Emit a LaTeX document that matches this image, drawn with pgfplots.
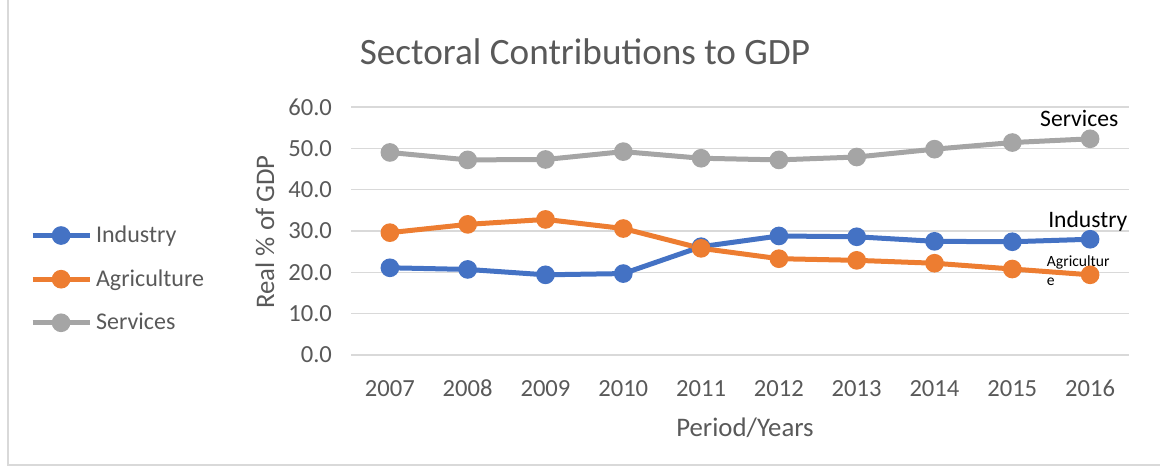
\documentclass[border=0pt]{standalone}
\usepackage{fontspec}
\setmainfont{Carlito}
\usepackage{pgfplots}
\pgfplotsset{compat=1.18}
\definecolor{ind}{HTML}{4472C4}
\definecolor{agr}{HTML}{ED7D31}
\definecolor{ser}{HTML}{A5A5A5}
\definecolor{txt}{HTML}{595959}
\definecolor{grd}{HTML}{D9D9D9}
\begin{document}
\begin{tikzpicture}[x=1pt,y=1pt]
\useasboundingbox (0,0) rectangle (580,235);
\draw[grd, line width=0.8pt] (4,235) -- (4,2.5) -- (580,2.5);
\begin{axis}[
  at={(175.5pt,57.5pt)}, anchor=south west,
  scale only axis, width=389pt, height=124pt,
  xmin=2006.5, xmax=2016.5, ymin=0, ymax=60,
  xtick={2007,...,2016}, ytick={0,10,...,60},
  /pgf/number format/1000 sep={},
  /pgf/number format/assume math mode=true,
  yticklabel style={/pgf/number format/fixed,/pgf/number format/fixed zerofill,/pgf/number format/precision=1, xshift=-6pt},
  xticklabel style={yshift=-9pt},
  ymajorgrids, grid style={grd, line width=0.8pt},
  axis line style={draw=none}, tick style={draw=none},
  tick label style={font=\fontsize{12.3}{14}\selectfont, text=txt},
  legend style={at={(axis description cs:-0.413,0.306)}, anchor=west, draw=none, fill=none,
    font=\fontsize{12}{14}\selectfont, text=txt, row sep=8pt, inner sep=0pt,
    cells={anchor=west, inner xsep=0.5pt}},
  legend image code/.code={\draw[mark repeat=2,mark phase=2,#1] plot coordinates {(0pt,0pt) (14.25pt,0pt) (28.5pt,0pt)};},
  every axis plot/.append style={line width=2.5pt, mark=*, mark size=3.4pt},
  clip=false,
]
\addplot[ind, mark options={fill=ind, draw=ind}] coordinates {
(2007,21.1) (2008,20.7) (2009,19.4) (2010,19.7) (2011,26.2) (2012,28.8) (2013,28.6) (2014,27.5) (2015,27.4) (2016,28.0)};
\addlegendentry{Industry}
\addplot[agr, mark options={fill=agr, draw=agr}] coordinates {
(2007,29.6) (2008,31.6) (2009,32.8) (2010,30.6) (2011,25.8) (2012,23.3) (2013,22.9) (2014,22.2) (2015,20.8) (2016,19.4)};
\addlegendentry{Agriculture}
\addplot[ser, mark options={fill=ser, draw=ser}] coordinates {
(2007,49.0) (2008,47.2) (2009,47.3) (2010,49.2) (2011,47.6) (2012,47.2) (2013,47.9) (2014,49.8) (2015,51.4) (2016,52.3)};
\addlegendentry{Services}
\node[font=\fontsize{11.8}{13}\selectfont, inner sep=0pt] at (axis cs:2015.86,57.3) {Services};
\node[font=\fontsize{11.8}{13}\selectfont, inner sep=0pt] at (axis cs:2015.97,32.4) {Industry};
\node[font=\fontsize{7.8}{9}\selectfont, inner sep=0pt, anchor=west] at (axis cs:2015.44,22.3) {Agricultur};
\node[font=\fontsize{7.8}{9}\selectfont, inner sep=0pt, anchor=west] at (axis cs:2015.44,17.7) {e};
\end{axis}
\node[text=txt, font=\fontsize{18.6}{21}\selectfont] at (292.5,209) {Sectoral Contributions to GDP};
\node[text=txt, font=\fontsize{13.4}{15}\selectfont, rotate=90] at (132.5,119) {Real \% of GDP};
\node[text=txt, font=\fontsize{13.4}{15}\selectfont] at (372.5,21) {Period/Years};
\end{tikzpicture}
\end{document}
